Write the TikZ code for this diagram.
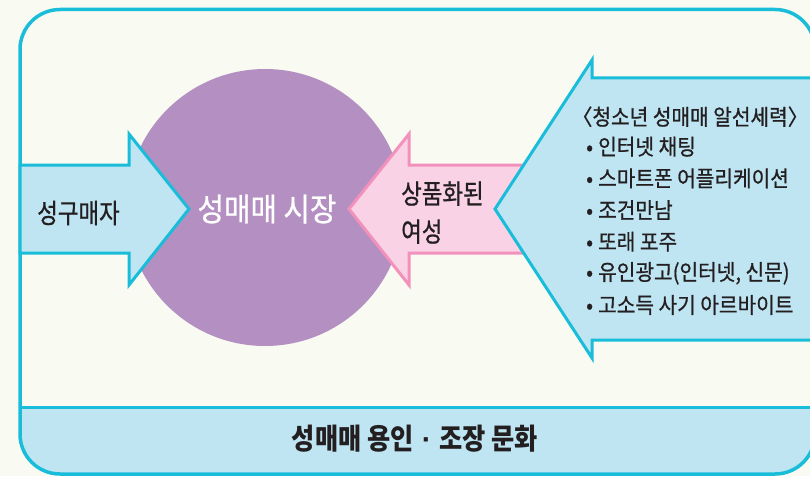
\documentclass[tikz,border=0pt]{standalone}
\usepackage{fontspec}
\newfontfamily\krL[FakeStretch=0.83,FakeBold=0.8]{Noto Sans CJK KR}
\newfontfamily\krM[FakeStretch=0.9,FakeBold=0.8]{Noto Sans CJK KR}
\newfontfamily\krS[FakeStretch=0.92,FakeBold=0.8]{Noto Sans CJK KR}
\newfontfamily\krB[FakeStretch=0.87]{Noto Sans CJK KR}
\newfontfamily\latdot{Liberation Sans}
\definecolor{bg}{HTML}{F9FAF2}
\definecolor{cyanline}{HTML}{19BDD9}
\definecolor{lightblue}{HTML}{BFE5F3}
\definecolor{pinkline}{HTML}{F291BC}
\definecolor{pinkfill}{HTML}{F9D3E5}
\definecolor{purp}{HTML}{B48FC1}
\definecolor{ink}{HTML}{231F20}
\begin{document}
\begin{tikzpicture}[x=1pt,y=-1pt,
  frame/.style={draw=cyanline, line width=3.5pt},
  bluearrow/.style={draw=cyanline, fill=lightblue, line width=3pt, line join=miter},
  pinkarrow/.style={draw=pinkline, fill=pinkfill, line width=3pt, line join=miter},
  side/.style={text=ink, inner sep=0pt, font=\krL\fontsize{27}{38}\selectfont},
  item/.style={text=ink, inner sep=0pt, anchor=west, font=\krS\fontsize{22}{24}\selectfont}
]
\clip (0,0) rectangle (810,476);
\fill[bg] (0,0) rectangle (810,476);
% bottom band
\begin{scope}
  \clip[rounded corners=40pt] (20,9.5) rectangle (815,474);
  \fill[lightblue] (0,407.5) rectangle (830,480);
\end{scope}
\draw[frame] (20,407.5) -- (815,407.5);
\draw[frame, rounded corners=40pt] (20,9.5) rectangle (815,474);
\node[text=ink, inner sep=0pt, font=\krB\bfseries\fontsize{29}{32}\selectfont] (culture) at (415,438.5) {성매매 용인{\latdot\bfseries\ ·\ }조장 문화};
% market circle
\node[circle, fill=purp, minimum size=277pt, inner sep=0pt] (market) at (265,207.5) {};
\node[text=white, inner sep=0pt, font=\krM\fontsize{32}{36}\selectfont] (marketlabel) at (267,209) {성매매 시장};
% buyers arrow
\draw[bluearrow] (20,165) -- (129,165) -- (129,134) -- (189,209) -- (129,285) -- (129,253) -- (20,253) -- cycle;
\node[side] (buyers) at (78.5,213) {성구매자};
% women arrow
\draw[pinkarrow] (349,209) -- (409,134) -- (409,165) -- (560,165) -- (560,253) -- (409,253) -- (409,285) -- cycle;
\node[side, anchor=west, align=left] (women) at (401,212.6) {상품화된\\여성};
% brokers arrow
\draw[bluearrow] (495,209) -- (592,60) -- (592,78) -- (830,78) -- (830,340) -- (592,340) -- (592,358) -- cycle;
\node[item] (title) at (572,116.7) {〈청소년 성매매 알선세력〉};
\node[item] (i1) at (586,146.7) {\hbox to 12pt{•\hfil}인터넷 채팅};
\node[item] (i2) at (586,178.3) {\hbox to 12pt{•\hfil}스마트폰 어플리케이션};
\node[item] (i3) at (586,210.0) {\hbox to 12pt{•\hfil}조건만남};
\node[item] (i4) at (586,241.7) {\hbox to 12pt{•\hfil}또래 포주};
\node[item] (i5) at (586,273.3) {\hbox to 12pt{•\hfil}유인광고(인터넷, 신문)};
\node[item] (i6) at (586,305.0) {\hbox to 12pt{•\hfil}고소득 사기 아르바이트};
\end{tikzpicture}
\end{document}
